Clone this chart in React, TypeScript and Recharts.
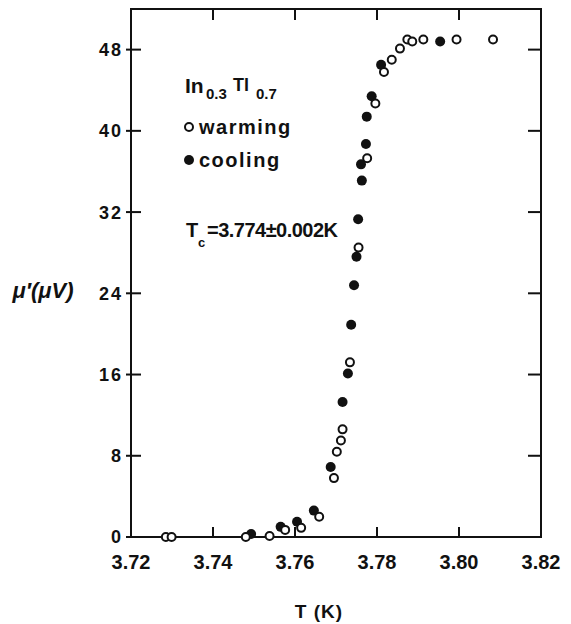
import { ScatterChart, Scatter, XAxis, YAxis } from 'recharts';

// In0.3Tl0.7 — mu' vs T
const warmingT = [
  3.7285, 3.7299, 3.748, 3.7538, 3.7576, 3.7615, 3.7659, 3.7695, 3.7702, 3.7712, 3.7716, 3.7734,
  3.7755, 3.7776, 3.7796, 3.7817, 3.7836, 3.7856, 3.7874, 3.7886, 3.7913, 3.7994, 3.8083,
];
const warmingMu = [
  0, 0, 0, 0.1, 0.7, 0.9, 2.0, 5.8, 8.4, 9.5, 10.6, 17.2, 28.5, 37.3, 42.7, 45.8, 47.0, 48.1, 49.0,
  48.8, 49.0, 49.0, 49.0,
];
const coolingT = [
  3.7493, 3.7565, 3.7605, 3.7646, 3.7687, 3.7716, 3.7729, 3.7737, 3.7744, 3.775, 3.7754, 3.7763,
  3.7761, 3.7773, 3.7775, 3.7787, 3.781, 3.7954,
];
const coolingMu = [
  0.3, 1.0, 1.5, 2.6, 6.9, 13.3, 16.1, 20.9, 24.8, 27.6, 31.3, 35.1, 36.7, 38.7, 41.4, 43.4, 46.5,
  48.8,
];
const xTicks = [3.72, 3.74, 3.76, 3.78, 3.8, 3.82];
const yTicks = [0, 8, 16, 24, 32, 40, 48];

const warming = warmingT.map((t, i) => ({ t, v: warmingMu[i] }));
const cooling = coolingT.map((t, i) => ({ t, v: coolingMu[i] }));

const W = 571;
const H = 624;
// plot box in px; the chart margins below come from these
const PLOT = { left: 131, top: 9, right: 541, bottom: 537 };

const FONT = '"Liberation Sans", Arial, sans-serif';
const INK = '#111';

// bottom tick also draws its mirrored inward tick on the top frame
const BottomTick = (p: any) => {
  const { x, y, payload } = p;
  const edge = payload.value === xTicks[0] || payload.value === xTicks[xTicks.length - 1];
  return (
    <g>
      {!edge && <rect x={x - 1} y={y - 10} width={2} height={10} fill={INK} />}
      {!edge && <rect x={x - 1} y={PLOT.top} width={2} height={11} fill={INK} />}
      <text
        x={x}
        y={y + 32}
        textAnchor="middle"
        fontFamily={FONT}
        fontWeight="bold"
        fontSize={20}
        fill={INK}
      >
        {Number(payload.value).toFixed(2)}
      </text>
    </g>
  );
};

// left tick also draws its mirrored inward tick on the right frame
const LeftTick = (p: any) => {
  const { x, y, payload } = p;
  return (
    <g>
      <rect x={x - 5} y={y - 1} width={15} height={2} fill={INK} />
      {payload.value !== 0 && (
        <rect x={PLOT.right - 13} y={y - 1} width={13} height={2} fill={INK} />
      )}
      <text
        x={x - 8}
        y={y}
        dy="0.36em"
        textAnchor="end"
        fontFamily={FONT}
        fontWeight="bold"
        fontSize={18}
        letterSpacing={2}
        fill={INK}
      >
        {payload.value}
      </text>
    </g>
  );
};

const OpenDot = (p: any) => (
  <circle cx={p.cx} cy={p.cy} r={4} fill="#fff" stroke={INK} strokeWidth={2} />
);
const FilledDot = (p: any) => <circle cx={p.cx} cy={p.cy} r={5} fill={INK} />;

const txt = { fontFamily: FONT, fontWeight: 'bold' as const, fill: INK };

export default function App() {
  return (
    <div style={{ position: 'absolute', left: 0, top: 0, width: W, height: H, background: '#fff' }}>
      <ScatterChart
        width={W}
        height={H}
        margin={{ top: PLOT.top, right: W - PLOT.right, bottom: 0, left: 0 }}
      >
        <XAxis
          type="number"
          dataKey="t"
          domain={[3.72, 3.82]}
          ticks={xTicks}
          height={H - PLOT.bottom}
          tickSize={0}
          tickMargin={0}
          tickLine={false}
          axisLine={{ stroke: INK, strokeWidth: 2 }}
          tick={BottomTick}
        />
        <YAxis
          type="number"
          dataKey="v"
          domain={[0, 52]}
          ticks={yTicks}
          width={PLOT.left}
          tickSize={0}
          tickMargin={0}
          tickLine={false}
          axisLine={{ stroke: INK, strokeWidth: 2 }}
          tick={LeftTick}
        />
        <Scatter data={cooling} shape={FilledDot} isAnimationActive={false} />
        <Scatter data={warming} shape={OpenDot} isAnimationActive={false} />
      </ScatterChart>
      {/* top and right sides of the box, laid over the chart */}
      <div
        style={{
          position: 'absolute',
          left: PLOT.left - 1,
          top: PLOT.top - 1,
          width: PLOT.right - PLOT.left,
          height: PLOT.bottom - PLOT.top,
          borderTop: `2px solid ${INK}`,
          borderRight: `2px solid ${INK}`,
          pointerEvents: 'none',
        }}
      />
      <svg
        width={W}
        height={H}
        style={{ position: 'absolute', left: 0, top: 0, pointerEvents: 'none' }}
      >
        <text x={43} y={290} dy="0.35em" textAnchor="middle" fontSize={22} fontStyle="italic" {...txt}>
          μ′(μV)
        </text>
        <text x={319} y={618} textAnchor="middle" fontSize={19} letterSpacing={1} {...txt}>
          T (K)
        </text>

        <text x={185} y={93} fontSize={21} {...txt}>In</text>
        <text x={206} y={99} fontSize={15} {...txt}>0.3</text>
        <text x={233} y={91} fontSize={18} {...txt}>Tl</text>
        <text x={256} y={99} fontSize={15} {...txt}>0.7</text>

        <circle cx={189} cy={127} r={4} fill="#fff" stroke={INK} strokeWidth={2} />
        <text x={199} y={134} fontSize={20} letterSpacing={1.5} {...txt}>warming</text>
        <circle cx={189} cy={160} r={5} fill={INK} />
        <text x={199} y={167} fontSize={20} letterSpacing={1.5} {...txt}>cooling</text>

        <text x={186} y={237} fontSize={20} {...txt}>T</text>
        <text x={198} y={247} fontSize={13} {...txt}>c</text>
        <text x={207} y={237} fontSize={20} textLength={131} {...txt}>=3.774±0.002K</text>
      </svg>
    </div>
  );
}
